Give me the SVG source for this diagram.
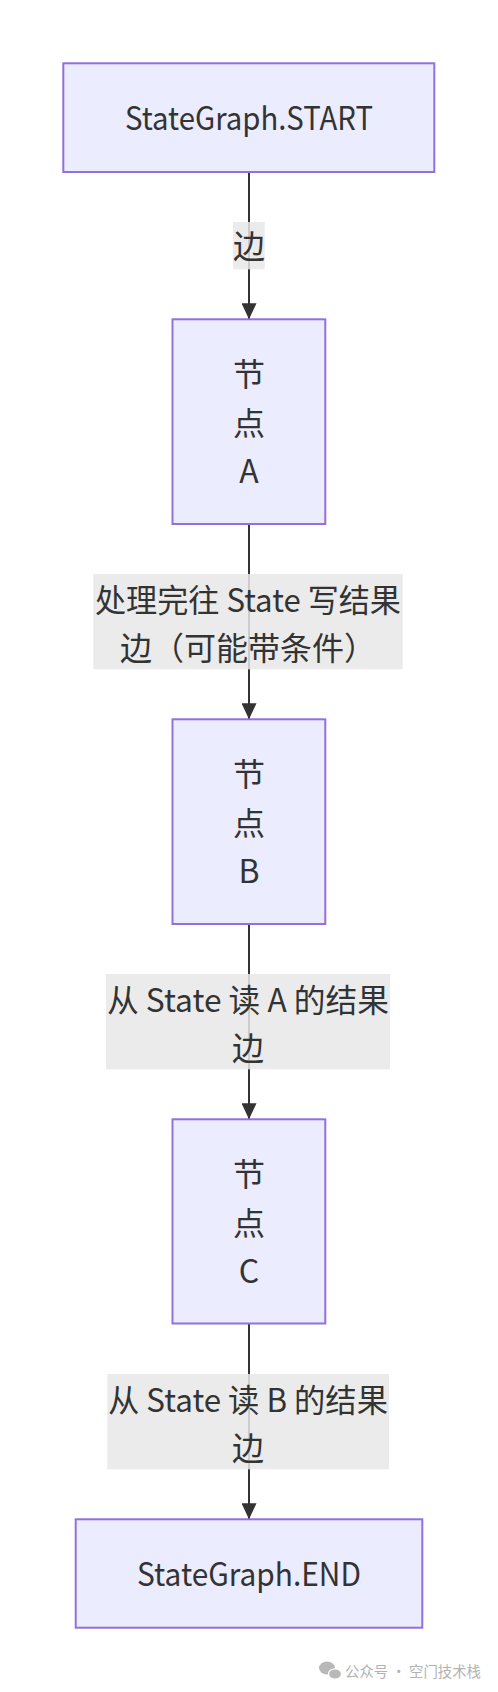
<svg xmlns="http://www.w3.org/2000/svg" width="498" height="1692" viewBox="0 0 498 1692">
<style>
.node rect{fill:#ECECFF;stroke:#9370DB;stroke-width:2}
text{font-family:"Noto Sans CJK SC","Noto Sans",sans-serif;font-size:32px;fill:#333;text-anchor:middle}
.edge{stroke:#333;stroke-width:2;fill:none}
.lbl rect{fill:#e8e8e8;fill-opacity:0.85}
.wm{font-size:15px;fill:#b3b3b3;text-anchor:start}
</style>
<defs>
<marker id="arrow" viewBox="0 0 16 15" refX="16" refY="7.5" markerWidth="16" markerHeight="15" markerUnits="userSpaceOnUse" orient="auto">
<path d="M0,0 L16,7.5 L0,15 Z" fill="#333"/>
</marker>
</defs>
<rect width="498" height="1692" fill="#fff"/>
<g id="connectors">
<path class="edge" d="M249,172 L249,319.3" marker-end="url(#arrow)"/>
<path class="edge" d="M249,524 L249,719.3" marker-end="url(#arrow)"/>
<path class="edge" d="M249,924 L249,1119.3" marker-end="url(#arrow)"/>
<path class="edge" d="M249,1323.5 L249,1519.3" marker-end="url(#arrow)"/>
<g class="lbl" id="label1"><rect x="233" y="222" width="31.7" height="47.3"/><text x="249" y="258">边</text></g>
<g class="lbl" id="label2"><rect x="93.3" y="574" width="309.4" height="95.3"/><text x="248" y="611.5" textLength="306" lengthAdjust="spacingAndGlyphs">处理完往 State 写结果</text><text x="248" y="660">边（可能带条件）</text></g>
<g class="lbl" id="label3"><rect x="106" y="974" width="284" height="95.3"/><text x="248" y="1011.5" textLength="282" lengthAdjust="spacingAndGlyphs">从 State 读 A 的结果</text><text x="248" y="1060">边</text></g>
<g class="lbl" id="label4"><rect x="107.3" y="1374" width="281.7" height="95.3"/><text x="248" y="1411.5" textLength="280" lengthAdjust="spacingAndGlyphs">从 State 读 B 的结果</text><text x="248" y="1460">边</text></g>
</g>
<g class="node" id="start"><rect x="63.3" y="63.3" width="371" height="108.7"/><text x="249" y="130" textLength="248" lengthAdjust="spacingAndGlyphs">StateGraph.START</text></g>
<g class="node" id="nodeA"><rect x="172.5" y="319.3" width="152.8" height="204.7"/><text x="249" y="386">节</text><text x="249" y="434.5">点</text><text x="249" y="483">A</text></g>
<g class="node" id="nodeB"><rect x="172.5" y="719.3" width="152.8" height="204.7"/><text x="249" y="786">节</text><text x="249" y="834.5">点</text><text x="249" y="883">B</text></g>
<g class="node" id="nodeC"><rect x="172.5" y="1119.3" width="152.8" height="204.2"/><text x="249" y="1186">节</text><text x="249" y="1234.5">点</text><text x="249" y="1283">C</text></g>
<g class="node" id="end"><rect x="75.7" y="1519.3" width="346.6" height="108.4"/><text x="249" y="1586" textLength="224" lengthAdjust="spacingAndGlyphs">StateGraph.END</text></g>
<g id="watermark">
<ellipse cx="327" cy="1668" rx="8" ry="6.5" fill="#b8b8b8"/>
<ellipse cx="335" cy="1674" rx="6.5" ry="5.2" fill="#b8b8b8" stroke="#fff" stroke-width="1.2"/>
<text class="wm" x="345" y="1677" textLength="136" lengthAdjust="spacingAndGlyphs">公众号 · 空门技术栈</text>
</g>
</svg>
